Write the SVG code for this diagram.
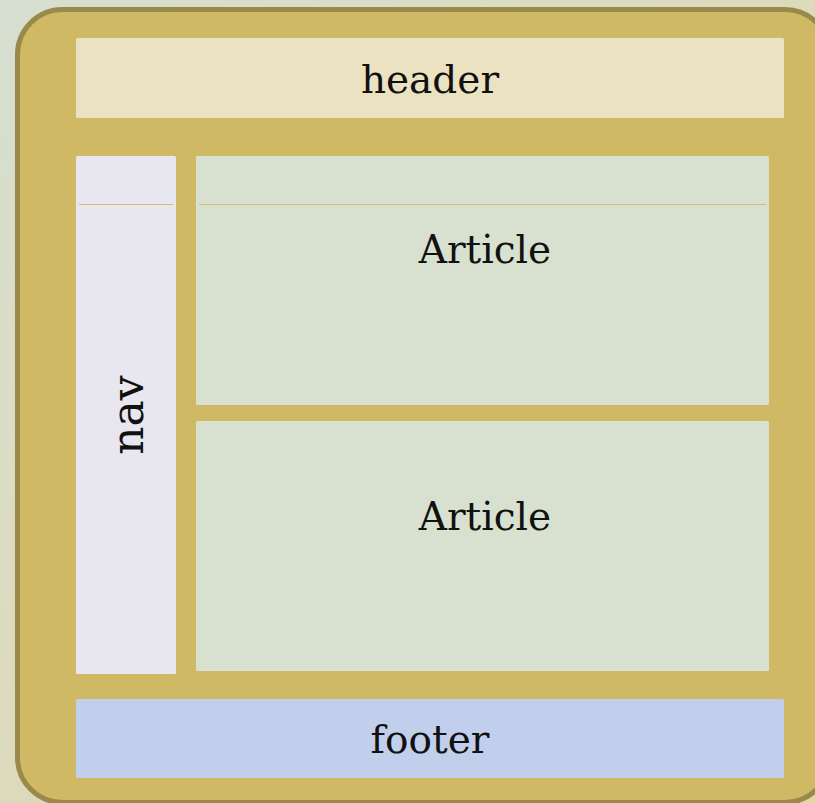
<svg xmlns="http://www.w3.org/2000/svg" width="815" height="803" viewBox="0 0 815 803">
<defs>
<linearGradient id="bg" x1="0" y1="0" x2="1" y2="1">
<stop offset="0" stop-color="#d7dfd1"/>
<stop offset="1" stop-color="#e3d6a6"/>
</linearGradient>
<style>
.lbl{font-family:"DejaVu Serif","Liberation Serif",serif;font-size:39px;fill:#111;text-anchor:middle}
.box{stroke:none}
.sep{stroke:#d5c070;stroke-width:1}
</style>
</defs>
<rect x="0" y="0" width="815" height="803" fill="url(#bg)"/>
<g id="page">
<rect x="17.5" y="9.5" width="812.5" height="793" rx="45" ry="45" fill="#cfb964" stroke="#998a4c" stroke-width="5"/>
</g>
<g id="header">
<rect class="box" x="76" y="38" width="708" height="80" rx="1.5" fill="#ebe2c1"/>
<text class="lbl" x="430" y="93">header</text>
</g>
<g id="nav">
<rect class="box" x="76" y="156" width="100" height="518" rx="1.5" fill="#e8e6ee"/>
<line class="sep" x1="79" y1="204.5" x2="173" y2="204.5"/>
<text class="lbl" x="0" y="0" style="font-size:44px" transform="translate(143 415) rotate(-90)">nav</text>
</g>
<g id="article1">
<rect class="box" x="196" y="156" width="573" height="249" rx="1.5" fill="#d8e0cf"/>
<line class="sep" x1="199" y1="204.5" x2="766" y2="204.5"/>
<text class="lbl" x="485" y="263">Article</text>
</g>
<g id="article2">
<rect class="box" x="196" y="421" width="573" height="250" rx="1.5" fill="#d8e0cf"/>
<text class="lbl" x="485" y="530">Article</text>
</g>
<g id="footer">
<rect class="box" x="76" y="699" width="708" height="79" rx="1.5" fill="#c2cfec"/>
<text class="lbl" x="430" y="753">footer</text>
</g>
<g id="connectors"></g>
</svg>
